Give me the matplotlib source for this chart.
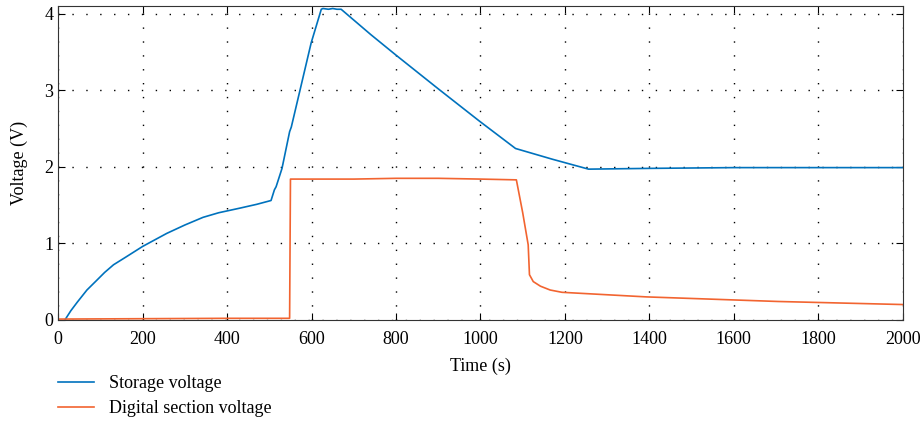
import numpy as np
import matplotlib.pyplot as plt

plt.rcParams['font.family'] = ['Liberation Serif', 'DejaVu Serif']

# storage voltage
storage_t = [16, 30, 45, 68, 90, 110, 131, 160, 200, 257, 300, 343, 380, 430, 470, 504,
             512, 516, 530, 548, 552, 599, 623, 627, 640, 650, 660, 670,
             740, 800, 900, 997, 1083, 1170, 1256, 1400, 1600, 2000]
storage_v = [0.0, 0.12, 0.23, 0.39, 0.51, 0.62, 0.72, 0.82, 0.96, 1.13, 1.24, 1.34, 1.40, 1.46, 1.51, 1.56,
             1.70, 1.74, 1.98, 2.46, 2.52, 3.62, 4.06, 4.07, 4.06, 4.07, 4.06, 4.06,
             3.73, 3.46, 3.02, 2.60, 2.24, 2.10, 1.97, 1.98, 1.99, 1.99]

# digital section voltage
digital_t = [0, 200, 400, 548, 550, 700, 800, 900, 1000, 1085, 1100, 1113, 1116, 1125,
             1142, 1165, 1193, 1393, 1705, 2000]
digital_v = [0.01, 0.015, 0.02, 0.02, 1.84, 1.84, 1.85, 1.85, 1.84, 1.83, 1.4, 0.98, 0.59, 0.5,
             0.44, 0.39, 0.36, 0.30, 0.24, 0.20]

fig = plt.figure(figsize=(9.24, 4.43), dpi=100)
ax = fig.add_axes([0.063, 0.278, 0.914, 0.708])

ax.plot(storage_t, storage_v, color='#0072BD', lw=1.2, label='Storage voltage')
ax.plot(digital_t, digital_v, color='#F26430', lw=1.2, label='Digital section voltage')

ax.set_xlim(0, 2000)
ax.set_ylim(0, 4.1)
ax.set_xticks(np.arange(0, 2001, 200))
ax.set_yticks([0, 1, 2, 3, 4])
ax.grid(True, linestyle=(0, (1, 9)), color='black', lw=1.0)
ax.tick_params(direction='in', top=True, right=True, labelsize=13, length=5)
ax.tick_params(axis='x', pad=8)
for s in ax.spines.values():
    s.set_color('#333333')

ax.set_xlabel('Time (s)', fontsize=13, labelpad=7)
ax.set_ylabel('Voltage (V)', fontsize=13, labelpad=12)

fig.legend(loc='upper left', bbox_to_anchor=(0.055, 0.17), frameon=False, fontsize=13,
           handlelength=2.0, labelspacing=0.45, borderaxespad=0)

fig.savefig('out.png', dpi=100)
